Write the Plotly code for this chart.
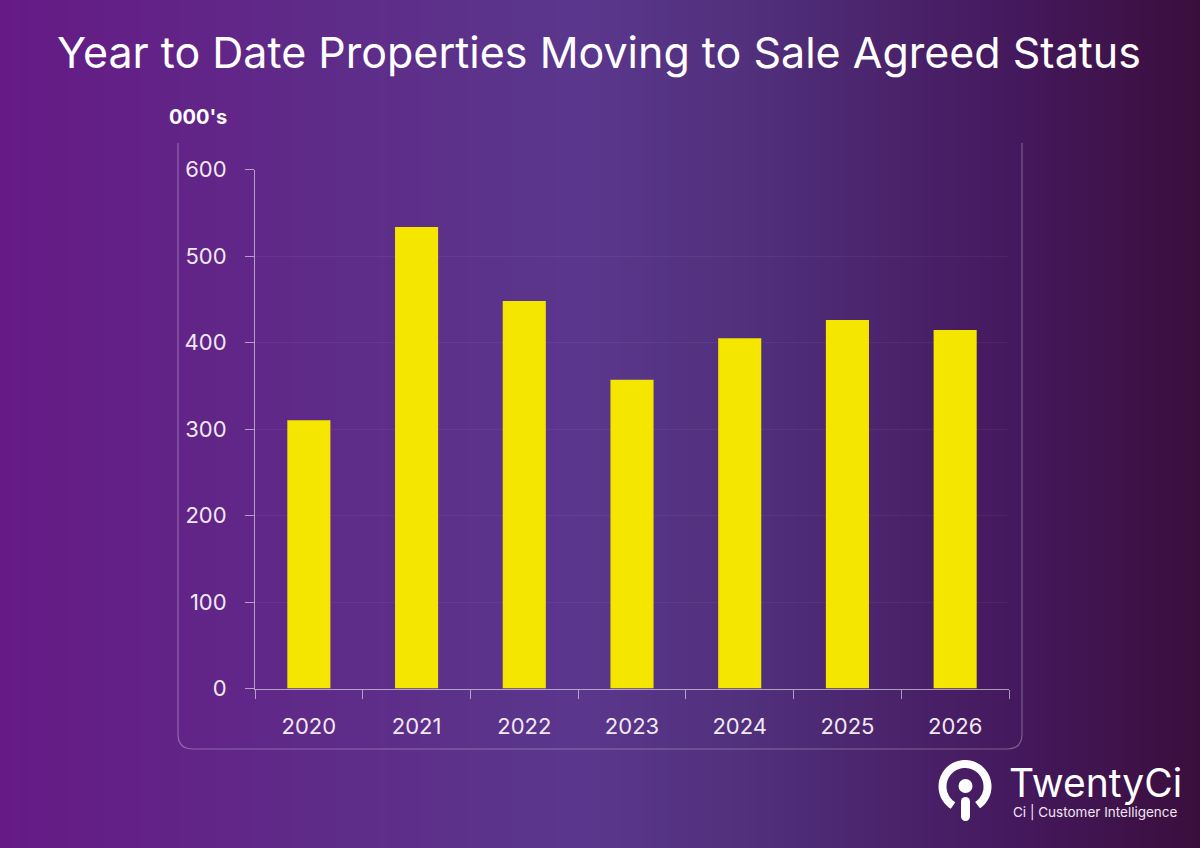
import math
import plotly.graph_objects as go

years = ["2020", "2021", "2022", "2023", "2024", "2025", "2026"]
sale_agreed = [310, 533.5, 448, 357, 405, 426, 414.5]
y_ticks = [0, 100, 200, 300, 400, 500, 600]
title_text = "Year to Date Properties Moving to Sale Agreed Status"
unit_label = "000's"

W, H = 1200, 848
FONT = "Inter"
def px(x): return x / W
def py(y): return 1 - y / H
def p(x, y): return f"{px(x):.5f},{py(y):.5f}"

fig = go.Figure()
fig.add_trace(go.Heatmap(
    z=[[0, 1], [0, 1]], x=[0, 1], y=[0, 1], xaxis="x", yaxis="y", showscale=False, hoverinfo="skip", zsmooth="best",
    colorscale=[[0, "#661a86"], [0.25, "#5f2a88"], [0.49, "#5a378c"], [0.62, "#51307c"],
                [0.84, "#45195e"], [1, "#3a0e3c"]],
))
fig.add_trace(go.Bar(x=years, y=sale_agreed, xaxis="x2", yaxis="y2", width=0.4,
                     marker=dict(color="#f5e600", line_width=0)))

shapes = []
r = 15
panel = (f"M{p(178,143)} L{p(178,749-r)} Q{p(178,749)} {p(178+r,749)} "
         f"L{p(1022-r,749)} Q{p(1022,749)} {p(1022,749-r)} L{p(1022,143)}")
shapes.append(dict(type="path", xref="paper", yref="paper", path=panel,
                   line=dict(color="rgba(255,255,255,0.3)", width=1.2)))

# logo: open ring, dot, stem with rounded ends
cx, cy, rr, gap = 965, 786.5, 22.5, 32
pts = []
for a in range(90 + gap, 450 - gap + 1, 6):
    t = math.radians(a)
    pts.append(p(cx + rr * math.cos(t), cy + rr * math.sin(t)))
shapes.append(dict(type="path", xref="paper", yref="paper", path="M" + " L".join(pts),
                   line=dict(color="#ffffff", width=8)))
def disc(x, y, rad):
    return dict(type="circle", xref="paper", yref="paper", x0=px(x - rad), x1=px(x + rad),
                y0=py(y + rad), y1=py(y - rad), fillcolor="#ffffff", line_width=0)
shapes.append(disc(965.5, 786, 7))
shapes.append(disc(965.5, 801.5, 4.5))
shapes.append(disc(965.5, 816.5, 4.5))
shapes.append(dict(type="path", xref="paper", yref="paper", path=f"M{p(965.5,801.5)} L{p(965.5,816.5)}",
                   line=dict(color="#ffffff", width=9)))

def note(text, x, y, size, xanchor="center", color="#ffffff"):
    return dict(text=text, x=px(x), y=py(y), xref="paper", yref="paper", showarrow=False,
                xanchor=xanchor, yanchor="middle", font=dict(family=FONT, size=size, color=color))

annotations = [
    note(title_text, 599, 52, 43),
    note(f"<b>{unit_label}</b>", 198, 117, 20),
    note("TwentyCi", 1007, 782, 39, "left"),
    note("Ci | Customer Intelligence", 1180, 812, 13.5, "right", "#f0e6f2"),
]

fig.update_layout(
    width=W, height=H, margin=dict(l=0, r=0, t=0, b=0, pad=0, autoexpand=False), autosize=False,
    paper_bgcolor="#5a378c", plot_bgcolor="rgba(0,0,0,0)", showlegend=False,
    font=dict(family=FONT, color="#f2e8f5"),
    shapes=shapes, annotations=annotations,
    xaxis=dict(domain=[0, 1], range=[0, 1], visible=False, fixedrange=True),
    yaxis=dict(domain=[0, 1], range=[0, 1], visible=False, fixedrange=True),
    xaxis2=dict(domain=[px(255), px(1009)], anchor="y2", type="category", tickson="boundaries",
                showline=True, linecolor="rgba(255,255,255,0.55)", linewidth=1,
                ticks="outside", ticklen=9, tickcolor="rgba(255,255,255,0.55)", tickwidth=1,
                showgrid=False, tickfont=dict(size=22, color="#f2e8f5"), ticklabelstandoff=18),
    yaxis2=dict(domain=[py(688.5), py(169.5)], anchor="x2", range=[0, 600], tickvals=y_ticks,
                showline=True, linecolor="rgba(255,255,255,0.55)", linewidth=1,
                ticks="outside", ticklen=9, tickcolor="rgba(255,255,255,0.55)", tickwidth=1,
                showgrid=True, gridcolor="rgba(255,255,255,0.05)", gridwidth=1, zeroline=False,
                tickfont=dict(size=22, color="#f2e8f5"), ticklabelstandoff=14),
)
fig.write_html("out.html", config={"displayModeBar": False},
               post_script="document.body.style.margin='0';document.documentElement.style.overflow='hidden';")
